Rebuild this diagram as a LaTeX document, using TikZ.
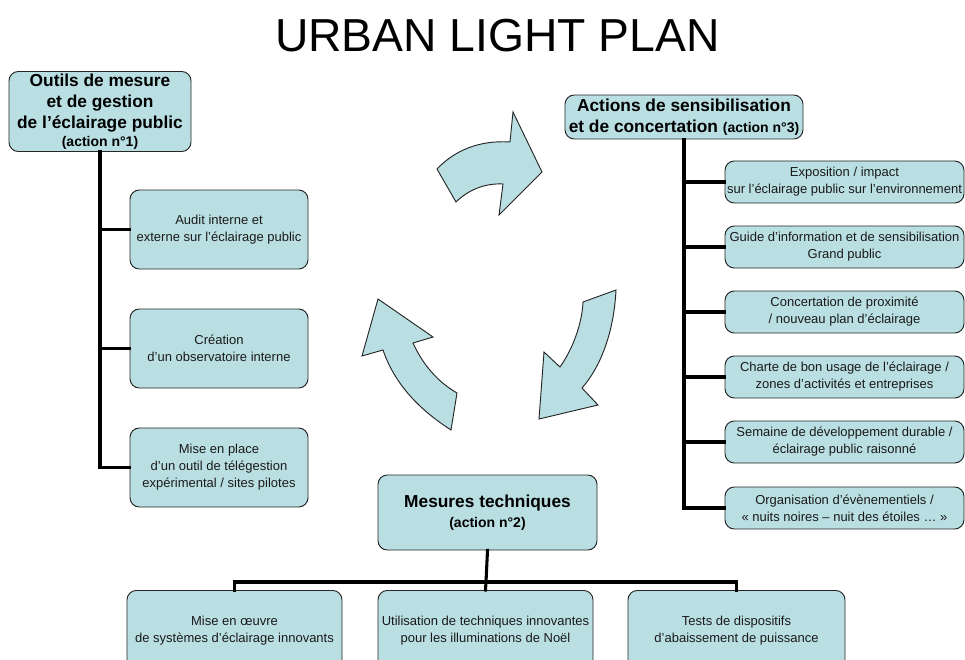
\documentclass[tikz,border=0pt]{standalone}
\usepackage{fontspec}
\setmainfont{Liberation Sans}
\definecolor{boxfill}{HTML}{BADFE3}
\definecolor{txt}{HTML}{1A1A1A}
\begin{document}
\begin{tikzpicture}[x=0.75pt,y=-0.75pt,
  box/.style={draw=black!85,line width=0.7pt,fill=boxfill,rounded corners=7pt,
    align=center,inner sep=0pt,text=txt,font=\fontsize{9.75}{12.75}\selectfont},
  headbox/.style={box,text=black,font=\fontsize{13}{15.75}\selectfont\bfseries},
  link/.style={line width=2.3pt,line cap=rect},
  cyc/.style={draw=black!85,line width=0.7pt,fill=boxfill,line join=miter}]
\clip (0,0) rectangle (965,660);
\fill[white] (0,0) rectangle (965,660);
% title
\node[anchor=base,font=\fontsize{34.7}{40}\selectfont] (title) at (497.5,52) {URBAN LIGHT PLAN};
% action 1
\node[headbox,minimum width=182*0.75pt,minimum height=80*0.75pt] (A) at (100,111.5)
  {Outils de mesure\\et de gestion\\de l’éclairage public\\[-2pt]{\fontsize{10.5}{12}\selectfont (action n°1)}};
\node[box,minimum width=178*0.75pt,minimum height=79*0.75pt] (L1) at (219,229.5)
  {Audit interne et\\externe sur l’éclairage public};
\node[box,minimum width=178*0.75pt,minimum height=79*0.75pt] (L2) at (219,348.5)
  {Création\\d’un observatoire interne};
\node[box,minimum width=178*0.75pt,minimum height=79*0.75pt] (L3) at (219,467.5)
  {Mise en place\\d’un outil de télégestion\\expérimental / sites pilotes};
\draw[link] (A.south) |- (L3.west);
\draw[link] (A.south |- L1.west) -- (L1.west);
\draw[link] (A.south |- L2.west) -- (L2.west);
% action 3
\node[headbox,minimum width=238*0.75pt,minimum height=44*0.75pt] (B) at (684,117)
  {Actions de sensibilisation\\et de concertation {\fontsize{10.5}{12}\selectfont (action n°3)}};
\node[box,minimum width=239*0.75pt,minimum height=42*0.75pt] (R1) at (844.5,182)
  {Exposition / impact\\sur l’éclairage public sur l’environnement};
\node[box,minimum width=239*0.75pt,minimum height=42*0.75pt] (R2) at (844.5,247)
  {Guide d’information et de sensibilisation\\Grand public};
\node[box,minimum width=239*0.75pt,minimum height=42*0.75pt] (R3) at (844.5,312)
  {Concertation de proximité\\/ nouveau plan d’éclairage};
\node[box,minimum width=239*0.75pt,minimum height=42*0.75pt] (R4) at (844.5,377)
  {Charte de bon usage de l’éclairage /\\zones d’activités et entreprises};
\node[box,minimum width=239*0.75pt,minimum height=42*0.75pt] (R5) at (844.5,442)
  {Semaine de développement durable /\\éclairage public raisonné};
\node[box,minimum width=239*0.75pt,minimum height=42*0.75pt] (R6) at (844.5,508)
  {Organisation d’évènementiels /\\« nuits noires – nuit des étoiles … »};
\draw[link] (B.south) |- (R6.west);
\foreach \r in {R1,R2,R3,R4,R5}{\draw[link] (B.south |- \r.west) -- (\r.west);}
% action 2
\node[headbox,minimum width=219*0.75pt,minimum height=75*0.75pt] (C) at (487.5,512.5)
  {Mesures techniques\\[-1pt]{\fontsize{10.5}{12}\selectfont (action n°2)}};
\node[box,minimum width=215*0.75pt,minimum height=100*0.75pt,anchor=north] (D1) at (234.5,590)
  {\\[-6pt]Mise en œuvre\\de systèmes d’éclairage innovants\\[4pt]};
\node[box,minimum width=215*0.75pt,minimum height=100*0.75pt,anchor=north] (D2) at (485.5,590)
  {\\[-6pt]Utilisation de techniques innovantes\\pour les illuminations de Noël\\[4pt]};
\node[box,minimum width=217*0.75pt,minimum height=100*0.75pt,anchor=north] (D3) at (736.5,590)
  {\\[-6pt]Tests de dispositifs\\d’abaissement de puissance\\[4pt]};
\coordinate (jn) at (486,582);
\draw[link] (C.south) -- (jn);
\draw[link] (D1.north) |- (jn) -| (D3.north);
\draw[link] (jn) -- (D2.north);
% cycle arrows
\draw[cyc] (437,169) .. controls (455,150) and (480,140) .. (510,142) -- (513,112) -- (542,172)
  -- (499,215) -- (503,184) .. controls (485,183) and (468,190) .. (456,202) -- cycle;
\draw[cyc] (583,302) -- (616,290) .. controls (614,330) and (602,365) .. (582,388) -- (598,405)
  -- (539,419) -- (544,352) -- (560,367) .. controls (572,350) and (582,325) .. (583,302) -- cycle;
\draw[cyc] (457,393) -- (451,430) .. controls (420,410) and (395,385) .. (383,350) -- (362,356)
  -- (378,299) -- (433,337) -- (413,343) .. controls (423,365) and (438,382) .. (457,393) -- cycle;
\end{tikzpicture}
\end{document}
